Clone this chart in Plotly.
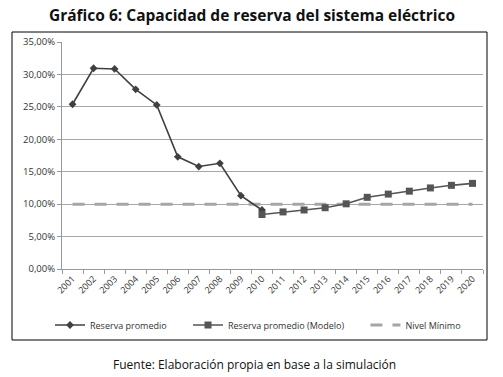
import plotly.graph_objects as go

years = [str(y) for y in range(2001, 2021)]
reserva = [25.4, 30.95, 30.85, 27.7, 25.3, 17.3, 15.8, 16.3, 11.3, 9.1,
           None, None, None, None, None, None, None, None, None, None]
modelo = [None, None, None, None, None, None, None, None, None, 8.4,
          8.8, 9.1, 9.45, 10.05, 11.05, 11.55, 12.0, 12.5, 12.9, 13.2]
nivel = [10.0] * 20
yticks = [0, 5, 10, 15, 20, 25, 30, 35]
yticktext = [("%.2f%%" % v).replace(".", ",") for v in yticks]

PAD = "\u00a0" * 7

fig = go.Figure()
fig.add_trace(go.Scatter(x=years, y=nivel, mode="lines", name="Nivel Mínimo",
                         line=dict(color="#a6a6a6", width=3, dash="12px,10px"),
                         legendrank=3))
fig.add_trace(go.Scatter(x=years, y=reserva, mode="lines+markers", name="Reserva promedio" + PAD,
                         line=dict(color="#404040", width=1.6),
                         marker=dict(symbol="diamond", size=6, color="#404040"),
                         legendrank=1))
fig.add_trace(go.Scatter(x=years, y=modelo, mode="lines+markers", name="Reserva promedio (Modelo)" + PAD,
                         line=dict(color="#555555", width=1.6),
                         marker=dict(symbol="square", size=7, color="#555555"),
                         legendrank=2))

W, H = 503, 377
L, R, T, B = 62, 20, 42, 108
pw, ph = W - L - R, H - T - B

def px(x):
    return (x - L) / pw

def py(y):
    return (H - B - y) / ph

fig.update_layout(
    width=W, height=H,
    margin=dict(l=L, r=R, t=T, b=B),
    paper_bgcolor="white", plot_bgcolor="white",
    font=dict(family="Open Sans, Liberation Sans, sans-serif", color="#333333", size=9),
    showlegend=True,
    legend=dict(orientation="h", x=px(50), y=py(325), xanchor="left", yanchor="middle",
                font=dict(size=9, color="#333333"), itemwidth=30,
                traceorder="normal", bgcolor="rgba(0,0,0,0)"),
    xaxis=dict(type="category", tickson="boundaries", ticks="outside", ticklen=4,
               tickcolor="#999999", showline=True, linecolor="#999999", linewidth=1,
               showgrid=False, tickangle=-45, tickfont=dict(size=9, color="#333333"),
               range=[-0.5, 19.5], fixedrange=True),
    yaxis=dict(range=[0, 35], tickvals=yticks, ticktext=yticktext, ticks="outside",
               ticklen=4, tickcolor="#999999", showline=True, linecolor="#999999",
               gridcolor="#a8a8a8", gridwidth=1.2, zeroline=False,
               tickfont=dict(size=9.5, color="#333333"), fixedrange=True),
    shapes=[dict(type="rect", xref="paper", yref="paper",
                 x0=px(12), x1=px(487), y0=py(340), y1=py(32),
                 line=dict(color="black", width=1), fillcolor="rgba(0,0,0,0)", layer="below")],
    annotations=[
        dict(text="<b>Gráfico 6: Capacidad de reserva del sistema eléctrico</b>",
             xref="paper", yref="paper", x=px(252), y=py(15), xanchor="center", yanchor="middle",
             showarrow=False, font=dict(size=15.5, color="#111111", family="Open Sans, sans-serif")),
        dict(text="Fuente: Elaboración propia en base a la simulación",
             xref="paper", yref="paper", x=px(254), y=py(364), xanchor="center", yanchor="middle",
             showarrow=False, font=dict(size=12, color="#111111")),
    ],
)

fig.write_html("out.html", config={"displayModeBar": False},
               post_script="document.body.style.margin='0';document.body.style.overflow='hidden';")
